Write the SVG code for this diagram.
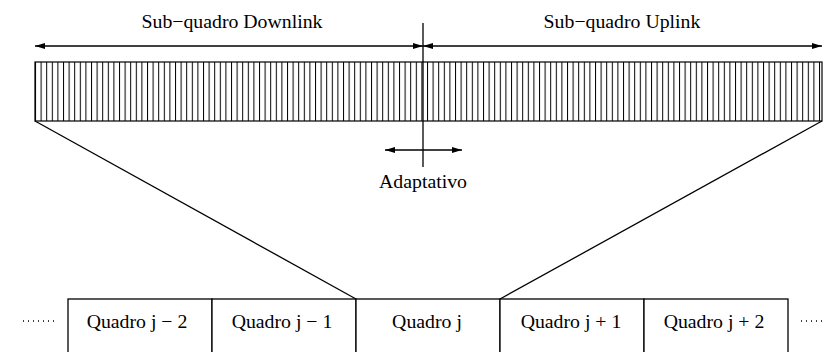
<svg xmlns="http://www.w3.org/2000/svg" width="824" height="352" viewBox="0 0 824 352">
<style>
.t{font-family:"Liberation Serif","Times New Roman",serif;font-size:19.8px;fill:#000}
.ln{stroke:#000;stroke-width:1.3;fill:none}
.bx{stroke:#000;stroke-width:1.3;fill:#fff}
.dot{stroke:#000;stroke-width:1.3;stroke-dasharray:1 4;fill:none}
</style>
<defs>
<marker id="ah" viewBox="0 0 10 6" refX="10" refY="3" markerWidth="10" markerHeight="6" markerUnits="userSpaceOnUse" orient="auto-start-reverse">
<path d="M0,0 L10,3 L0,6 Z" fill="#000"/>
</marker>
<pattern id="hatch" x="35" y="0" width="5.6" height="10" patternUnits="userSpaceOnUse">
<line x1="0.5" y1="0" x2="0.5" y2="10" stroke="#000" stroke-width="1"/>
</pattern>
</defs>
<g id="labels">
<text class="t" x="232" y="28" text-anchor="middle">Sub−quadro Downlink</text>
<text class="t" x="622" y="28" text-anchor="middle">Sub−quadro Uplink</text>
<text class="t" x="423" y="188" text-anchor="middle">Adaptativo</text>
</g>
<g id="strip">
<rect x="35" y="62" width="787" height="59" fill="url(#hatch)" stroke="#000" stroke-width="1.2"/>
</g>
<g id="connectors">
<line class="ln" x1="35" y1="46" x2="423" y2="46" marker-start="url(#ah)" marker-end="url(#ah)"/>
<line class="ln" x1="423" y1="46" x2="822" y2="46" marker-start="url(#ah)" marker-end="url(#ah)"/>
<line class="ln" x1="423" y1="23" x2="423" y2="167" stroke-width="1.6"/>
<line class="ln" x1="385" y1="150" x2="462" y2="150" marker-start="url(#ah)" marker-end="url(#ah)"/>
<line class="ln" x1="35" y1="121" x2="356" y2="299"/>
<line class="ln" x1="822" y1="121" x2="500" y2="299"/>
<line class="dot" x1="23" y1="321" x2="55" y2="321"/>
<line class="dot" x1="801" y1="321" x2="824" y2="321"/>
</g>
<g id="q-2"><rect class="bx" x="68" y="299" width="144" height="60"/><text class="t" x="137" y="328" text-anchor="middle">Quadro j − 2</text></g>
<g id="q-1"><rect class="bx" x="212" y="299" width="144" height="60"/><text class="t" x="282" y="328" text-anchor="middle">Quadro j − 1</text></g>
<g id="q0"><rect class="bx" x="356" y="299" width="144" height="60"/><text class="t" x="427" y="328" text-anchor="middle">Quadro j</text></g>
<g id="q1"><rect class="bx" x="500" y="299" width="144" height="60"/><text class="t" x="571" y="328" text-anchor="middle">Quadro j + 1</text></g>
<g id="q2"><rect class="bx" x="644" y="299" width="144" height="60"/><text class="t" x="714" y="328" text-anchor="middle">Quadro j + 2</text></g>
</svg>
